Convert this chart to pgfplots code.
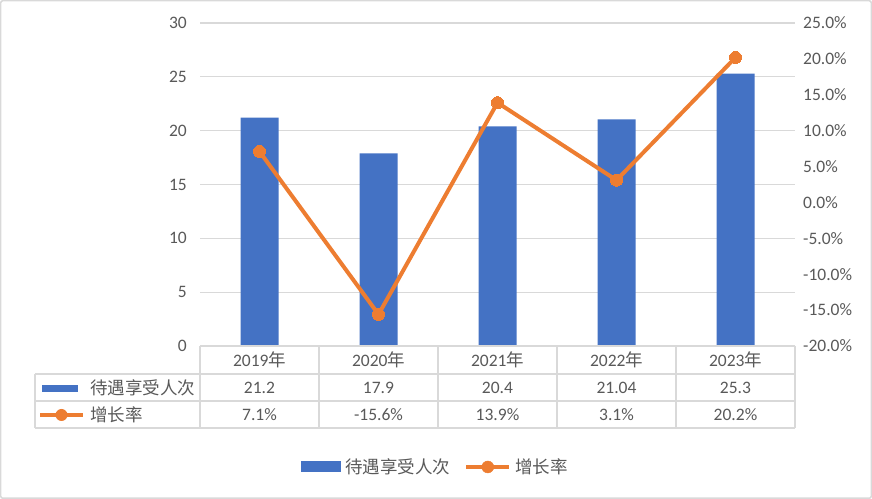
\documentclass[border=0pt]{standalone}
\usepackage{fontspec}
\setmainfont{Carlito}
\newfontfamily\cjk{Noto Sans CJK SC}
\usepackage{pgfplots}
\pgfplotsset{compat=1.18}

\definecolor{barblue}{HTML}{4472C4}
\definecolor{lineorange}{HTML}{ED7D31}
\definecolor{gridc}{HTML}{D9D9D9}
\definecolor{txt}{HTML}{595959}

\begin{document}
\begin{tikzpicture}[x=1bp,y=1bp,font=\fontsize{17.5bp}{20bp}\selectfont,text=txt]
\useasboundingbox (0,0) rectangle (872,499);
\draw[gridc,line width=1.5bp,rounded corners=2bp] (0.75,0.75) rectangle (871.25,498.25);

% left axis: bars
\begin{axis}[
  at={(200bp,153bp)}, anchor=south west,
  scale only axis, width=595bp, height=323bp,
  xmin=-0.5, xmax=4.5, ymin=0, ymax=30,
  xtick=\empty, ytick={0,5,...,30},
  axis line style={draw=none}, major tick length=0pt,
  ymajorgrids, grid style={gridc, line width=1.2bp},
  yticklabel style={anchor=east, inner sep=0pt, xshift=-13bp, text=txt},
  /pgf/number format/assume math mode=true,
  ybar, bar width=38bp,
  legend style={at={(0.3975,-0.3746)}, anchor=center, draw=none, fill=none,
    legend columns=-1, font=\fontsize{17.5bp}{20bp}\selectfont\cjk, text=txt,
    /tikz/every even column/.append style={column sep=10bp},
    nodes={inner xsep=4bp},
    legend cell align=left, inner sep=0pt},
  clip=false,
]
\addplot[fill=barblue, draw=none,
  legend image code/.code={\fill[barblue] (0bp,-5.5bp) rectangle (40bp,5.5bp);}]
  coordinates {(0,21.2) (1,17.9) (2,20.4) (3,21.04) (4,25.3)};
\addlegendentry{待遇享受人次}
\addlegendimage{legend image code/.code={%
  \draw[lineorange,line width=4bp] (0bp,0bp)--(43bp,0bp);
  \fill[lineorange] (21.5bp,0bp) circle (6bp);}}
\addlegendentry{增长率}
\end{axis}

% right axis: growth rate
\begin{axis}[
  at={(200bp,153bp)}, anchor=south west,
  scale only axis, width=595bp, height=323bp,
  xmin=-0.5, xmax=4.5, ymin=-20, ymax=25,
  hide x axis, axis y line*=right,
  ytick={-20,-15,...,25},
  axis line style={draw=none}, major tick length=0pt,
  yticklabel={\pgfmathprintnumber[fixed,fixed zerofill,precision=1]{\tick}\%},
  yticklabel style={anchor=west, inner sep=0pt, xshift=8bp, text=txt},
  /pgf/number format/assume math mode=true,
  clip=false,
]
\addplot[lineorange, line width=4bp, mark=*, mark size=6bp,
  mark options={fill=lineorange, draw=lineorange, line width=0pt}]
  coordinates {(0,7.1) (1,-15.6) (2,13.9) (3,3.1) (4,20.2)};
\end{axis}

% data table
\begin{scope}[gridc, line width=1.5bp]
\draw (200,153) -- (795,153);
\draw (35,125) -- (795,125);
\draw (35,98) -- (795,98);
\draw (35,71) -- (795,71);
\draw (35,125) -- (35,71);
\foreach \xx in {200,319,438,557,676,795} \draw (\xx,153) -- (\xx,71);
\end{scope}
\fill[barblue] (42,106.5) rectangle (78,113.5);
\draw[lineorange,line width=4bp] (40,84) -- (83,84);
\fill[lineorange] (61.5,84) circle (6);
\node[anchor=west,inner sep=0pt] at (90,111) {\cjk 待遇享受人次};
\node[anchor=west,inner sep=0pt] at (90,84) {\cjk 增长率};
\foreach \cx/\yr/\va/\vb in {259.5/2019/21.2/7.1, 378.5/2020/17.9/-15.6, 497.5/2021/20.4/13.9, 616.5/2022/21.04/3.1, 735.5/2023/25.3/20.2}{
  \node at (\cx,139) {\yr{\cjk 年}};
  \node at (\cx,111) {\va};
  \node at (\cx,84) {\vb\%};
}
\end{tikzpicture}
\end{document}
